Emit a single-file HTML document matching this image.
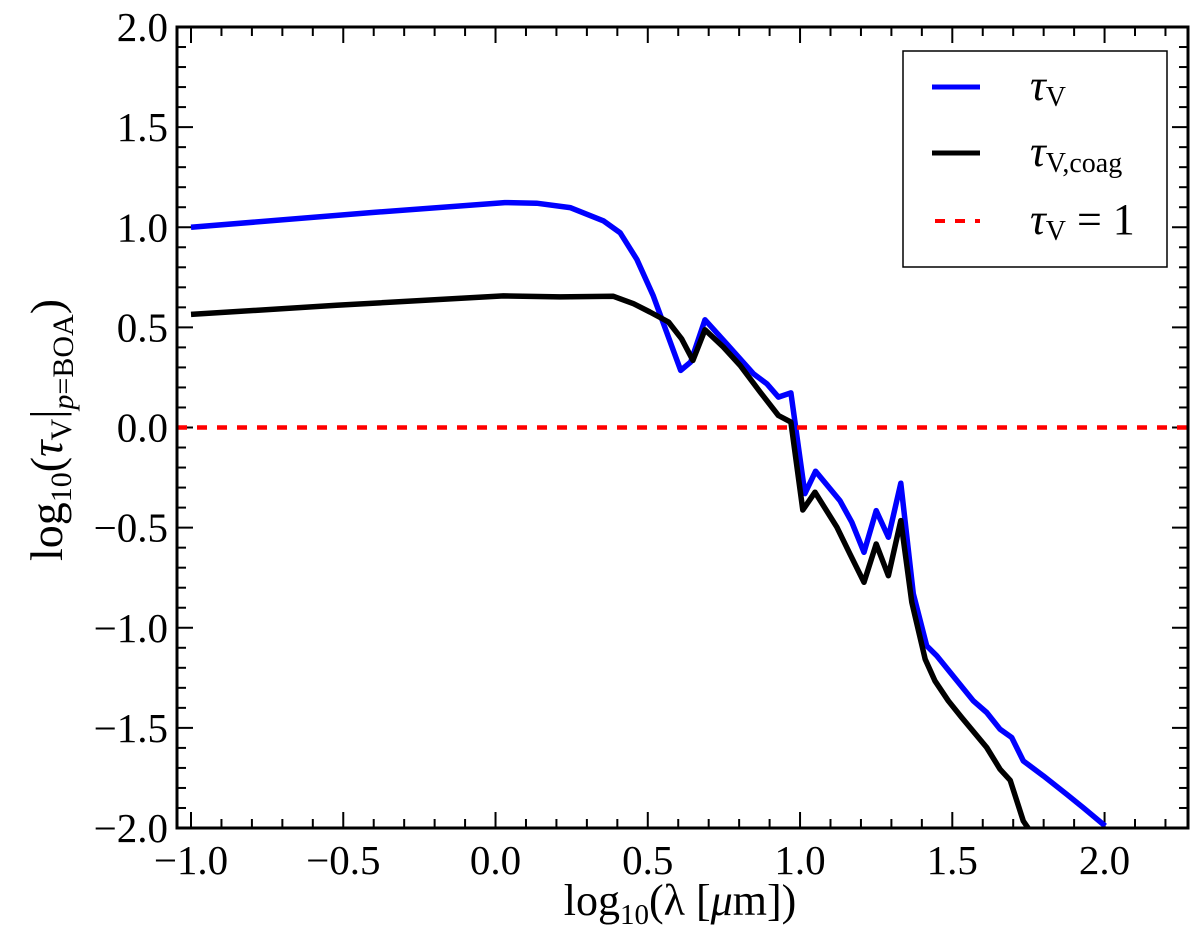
<!DOCTYPE html>
<html><head><meta charset="utf-8"><style>
body{margin:0;background:#fff;}
svg text{font-family:"Liberation Serif","DejaVu Serif",serif;fill:#000;}
</style></head><body>
<svg id="chart" width="1200" height="935" viewBox="0 0 1200 935" xmlns="http://www.w3.org/2000/svg">
<rect width="1200" height="935" fill="#fff"/>
<g id="ticks"></g>
<g id="series"></g>
<rect x="177" y="27" width="1011" height="801" fill="none" stroke="#000" stroke-width="3"/>
<g id="labels"></g>
<text x="680" y="915" font-size="44" text-anchor="middle">log<tspan font-size="29" dy="9">10</tspan><tspan dy="-9">(λ [</tspan><tspan font-style="italic">μ</tspan>m])</text>
<text transform="translate(62,430) rotate(-90)" font-size="46" text-anchor="middle">log<tspan font-size="30" dy="9">10</tspan><tspan dy="-9">(</tspan><tspan font-style="italic">τ</tspan><tspan font-size="30" dy="9">V</tspan><tspan dy="-9">|</tspan><tspan font-size="30" dy="11" font-style="italic">p</tspan><tspan font-size="30">=BOA</tspan><tspan dy="-11">)</tspan></text>
<g>
<rect x="903" y="51" width="264" height="216" fill="#fff" stroke="#000" stroke-width="1.5"/>
<line x1="932" y1="87" x2="980" y2="87" stroke="#0000ff" stroke-width="5"/>
<text x="1030" y="100" font-size="44" font-style="italic">τ<tspan font-size="28" font-style="normal" dy="6">V</tspan></text>
<line x1="932" y1="153" x2="980" y2="153" stroke="#000" stroke-width="5"/>
<text x="1030" y="166" font-size="44" font-style="italic">τ<tspan font-size="28" font-style="normal" dy="6">V,coag</tspan></text>
<line x1="935" y1="221" x2="980" y2="221" stroke="#ff0000" stroke-width="4" stroke-dasharray="10,10"/>
<text x="1030" y="234" font-size="44"><tspan font-style="italic">τ</tspan><tspan font-size="28" dy="6">V</tspan><tspan dy="-6"> = 1</tspan></text>
</g>
</svg>
<script>
const xTicks=[-1.0,-0.5,0.0,0.5,1.0,1.5,2.0];
const xTickLabels=["−1.0","−0.5","0.0","0.5","1.0","1.5","2.0"];
const yTicks=[2.0,1.5,1.0,0.5,0.0,-0.5,-1.0,-1.5,-2.0];
const yTickLabels=["2.0","1.5","1.0","0.5","0.0","−0.5","−1.0","−1.5","−2.0"];
const tauX=[-1.0,-0.41,0.03,0.135,0.245,0.354,0.409,0.464,0.518,0.608,0.641,0.688,0.759,0.847,0.891,0.929,0.970,1.016,1.051,1.131,1.170,1.210,1.250,1.290,1.331,1.372,1.416,1.449,1.493,1.569,1.613,1.657,1.695,1.733,1.799,1.876,1.930,2.002];
const tauY=[1.0,1.073,1.123,1.12,1.098,1.032,0.973,0.84,0.657,0.285,0.327,0.538,0.418,0.268,0.218,0.152,0.173,-0.33,-0.218,-0.365,-0.473,-0.623,-0.415,-0.548,-0.278,-0.83,-1.09,-1.14,-1.223,-1.365,-1.423,-1.507,-1.548,-1.665,-1.74,-1.832,-1.898,-1.99];
const coagX=[-1.0,-0.522,0.026,0.212,0.387,0.453,0.507,0.568,0.611,0.648,0.688,0.748,0.803,0.869,0.929,0.970,1.009,1.049,1.121,1.164,1.210,1.250,1.290,1.331,1.367,1.411,1.443,1.487,1.531,1.613,1.657,1.690,1.733,1.749];
const coagY=[0.565,0.61,0.657,0.652,0.655,0.618,0.577,0.527,0.443,0.335,0.488,0.402,0.31,0.177,0.06,0.027,-0.412,-0.323,-0.498,-0.632,-0.773,-0.582,-0.74,-0.465,-0.873,-1.157,-1.265,-1.365,-1.448,-1.598,-1.707,-1.762,-1.965,-2.0];
const refY=0;
const XMIN=-1.046,XMAX=2.274,YMIN=-2,YMAX=2;
const L=177,R=1188,T=27,B=828;
function sx(v){return L+(v-XMIN)/(XMAX-XMIN)*(R-L);}
function sy(v){return B-(v-YMIN)/(YMAX-YMIN)*(B-T);}
const NS='http://www.w3.org/2000/svg';
const tg=document.getElementById('ticks'),lg=document.getElementById('labels'),sg=document.getElementById('series');
function mk(tag,attrs,parent){const e=document.createElementNS(NS,tag);for(const k in attrs)e.setAttribute(k,attrs[k]);parent.appendChild(e);return e;}
for(let i=-11;i<=23;i++){const v=i/10;if(v<XMIN||v>XMAX)continue;const x=sx(v);const major=(i%5===0);const len=major?16:9;
const t1=mk('line',{x1:x,y1:B,x2:x,y2:B-len,stroke:'#000','stroke-width':2},tg);


const t2=mk('line',{x1:x,y1:T,x2:x,y2:T+len,stroke:'#000','stroke-width':2},tg);

}
for(let i=-20;i<=20;i++){const v=i/10;const y=sy(v);const major=(i%5===0);const len=major?16:9;
const t1=mk('line',{x1:L,y1:y,x2:L+len,y2:y,stroke:'#000','stroke-width':2},tg);


const t2=mk('line',{x1:R,y1:y,x2:R-len,y2:y,stroke:'#000','stroke-width':2},tg);

}
xTicks.forEach((v,i)=>{const t=mk('text',{x:sx(v),y:874,'font-size':41,'text-anchor':'middle'},lg);t.textContent=xTickLabels[i];

});
yTicks.forEach((v,i)=>{const t=mk('text',{x:168,y:sy(v)+14,'font-size':41,'text-anchor':'end'},lg);t.textContent=yTickLabels[i];

});
function pts(xs,ys){return xs.map((x,i)=>sx(x).toFixed(1)+','+sy(ys[i]).toFixed(1)).join(' ');}
const cp=mk('clipPath',{id:'clip'},sg);mk('rect',{x:L,y:T,width:R-L,height:B-T},cp);
const blue=mk('polyline',{points:pts(tauX,tauY),fill:'none',stroke:'#0000ff','stroke-width':5.5,'stroke-linejoin':'round','clip-path':'url(#clip)'},sg);


const black=mk('polyline',{points:pts(coagX,coagY),fill:'none',stroke:'#000','stroke-width':5.5,'stroke-linejoin':'round','clip-path':'url(#clip)'},sg);


const red=mk('line',{x1:L,y1:sy(refY),x2:R,y2:sy(refY),stroke:'#ff0000','stroke-width':4.5,'stroke-dasharray':'10,10'},sg);


</script>
</body></html>
